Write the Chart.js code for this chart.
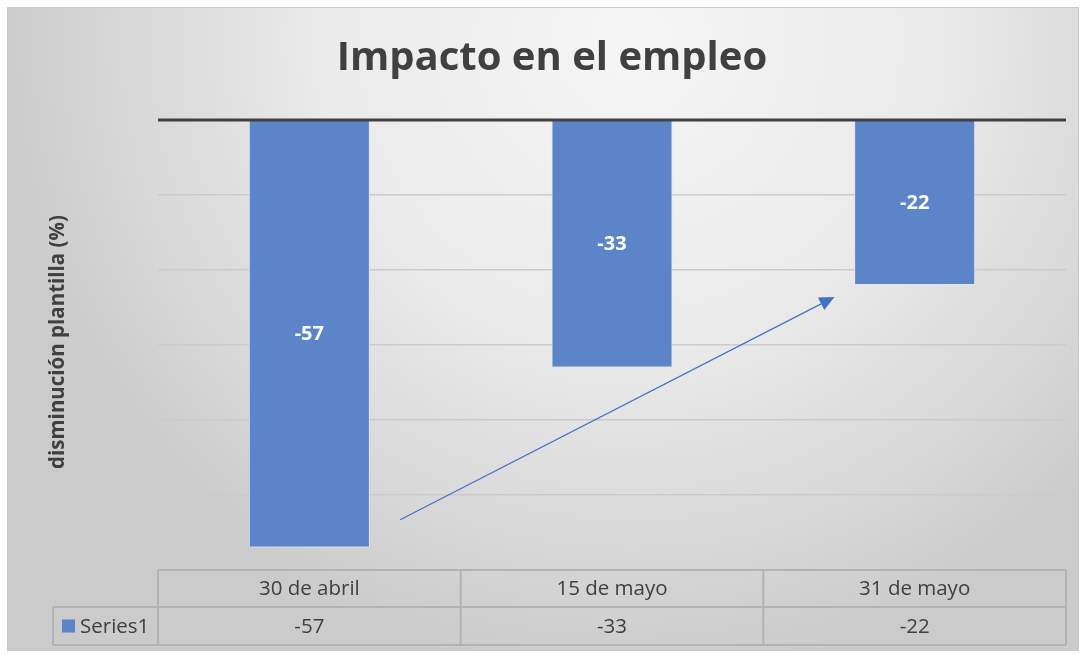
<!DOCTYPE html>
<html>
<head>
<meta charset="utf-8">
<script src="https://cdn.jsdelivr.net/npm/chart.js@4.4.1/dist/chart.umd.min.js"></script>
<style>
  body { margin: 0; background: #fff; }
  #wrap { width: 1086px; height: 655px; position: relative; }
</style>
</head>
<body>
<div id="wrap"><canvas id="chart"></canvas></div>
<script>
var categories = ['30 de abril', '15 de mayo', '31 de mayo'];
var seriesName = 'Series1';
var values = [-57, -33, -22];
var chartTitle = 'Impacto en el empleo';
var yTitle = 'disminución plantilla (%)';
// trend arrow, in axis units (category index, value)
var arrowFrom = [0.3, -53.3];
var arrowTo = [1.735, -23.6];

var FONT = '"Open Sans", "Noto Sans", sans-serif';
var TEXT = '#404040';
var BLUE = '#5b84c9';
var LINE = '#b3b3b3';

var extras = {
  id: 'extras',
  beforeDraw: function (chart) {
    var ctx = chart.ctx;
    ctx.save();
    var g = ctx.createRadialGradient(630, 40, 20, 630, 40, 640);
    g.addColorStop(0, '#f5f5f5');
    g.addColorStop(0.45, '#ebebeb');
    g.addColorStop(1, '#cbcbcb');
    ctx.fillStyle = g;
    ctx.fillRect(7, 7, 1072, 644);
    ctx.strokeStyle = '#c9c9c9';
    ctx.lineWidth = 1;
    ctx.strokeRect(7.5, 7.5, 1071, 643);

    ctx.fillStyle = TEXT;
    ctx.textAlign = 'center';
    ctx.textBaseline = 'middle';
    ctx.font = 'bold 40px ' + FONT;
    ctx.fillText(chartTitle, 552, 59);

    ctx.translate(58, 342);
    ctx.rotate(-Math.PI / 2);
    ctx.font = 'bold 20.5px ' + FONT;
    ctx.fillText(yTitle, 0, 0);
    ctx.restore();
  },
  afterDatasetsDraw: function (chart) {
    var ctx = chart.ctx;
    var xs = chart.scales.x, ys = chart.scales.y;
    var area = chart.chartArea;
    ctx.save();

    // value labels inside bars
    var meta = chart.getDatasetMeta(0);
    ctx.fillStyle = '#fff';
    ctx.font = 'bold 20px ' + FONT;
    ctx.textAlign = 'center';
    ctx.textBaseline = 'middle';
    meta.data.forEach(function (bar, i) {
      ctx.fillText(String(values[i]), bar.x, (bar.y + bar.base) / 2);
    });

    // arrow
    var x1 = xs.getPixelForValue(arrowFrom[0]), y1 = ys.getPixelForValue(arrowFrom[1]);
    var x2 = xs.getPixelForValue(arrowTo[0]), y2 = ys.getPixelForValue(arrowTo[1]);
    var ang = Math.atan2(y2 - y1, x2 - x1);
    var hl = 15, hw = 7;
    var bx = x2 - hl * Math.cos(ang), by = y2 - hl * Math.sin(ang);
    ctx.strokeStyle = '#4472c4';
    ctx.fillStyle = '#4472c4';
    ctx.lineWidth = 1.2;
    ctx.beginPath();
    ctx.moveTo(x1, y1);
    ctx.lineTo(bx, by);
    ctx.stroke();
    ctx.beginPath();
    ctx.moveTo(x2, y2);
    ctx.lineTo(bx + hw * Math.sin(ang), by - hw * Math.cos(ang));
    ctx.lineTo(bx - hw * Math.sin(ang), by + hw * Math.cos(ang));
    ctx.closePath();
    ctx.fill();

    // zero line on top
    ctx.strokeStyle = '#404040';
    ctx.lineWidth = 3;
    ctx.beginPath();
    ctx.moveTo(area.left, ys.getPixelForValue(0));
    ctx.lineTo(area.right, ys.getPixelForValue(0));
    ctx.stroke();

    // data table
    var top = area.bottom, mid = top + 37, bot = mid + 38, legL = 53;
    ctx.strokeStyle = LINE;
    ctx.lineWidth = 2;
    ctx.beginPath();
    ctx.moveTo(area.left, top); ctx.lineTo(area.right, top);
    ctx.moveTo(legL, mid); ctx.lineTo(area.right, mid);
    ctx.moveTo(legL, bot); ctx.lineTo(area.right, bot);
    ctx.moveTo(legL, mid); ctx.lineTo(legL, bot);
    var step = (area.right - area.left) / categories.length;
    for (var k = 0; k <= categories.length; k++) {
      var vx = area.left + step * k;
      ctx.moveTo(vx, top); ctx.lineTo(vx, bot);
    }
    ctx.stroke();

    ctx.fillStyle = TEXT;
    ctx.font = '20.5px ' + FONT;
    ctx.textAlign = 'center';
    categories.forEach(function (c, i) {
      var cx = xs.getPixelForValue(i);
      ctx.fillText(c, cx, (top + mid) / 2 + 1);
      ctx.fillText(String(values[i]), cx, (mid + bot) / 2 + 1);
    });
    ctx.fillStyle = BLUE;
    ctx.fillRect(62, (mid + bot) / 2 - 6.5, 13, 13);
    ctx.fillStyle = TEXT;
    ctx.textAlign = 'left';
    ctx.fillText(seriesName, 80, (mid + bot) / 2 + 1);
    ctx.restore();
  }
};

new Chart('chart', {
  type: 'bar',
  data: {
    labels: categories,
    datasets: [{
      label: seriesName,
      data: values,
      backgroundColor: BLUE,
      borderColor: '#dfe6f3',
      borderWidth: 1,
      barPercentage: 0.4,
      categoryPercentage: 1
    }]
  },
  options: {
    responsive: true,
    maintainAspectRatio: false,
    animation: false,
    layout: { padding: { left: 158, top: 120, right: 20, bottom: 85 } },
    plugins: {
      legend: { display: false },
      tooltip: { enabled: false }
    },
    scales: {
      x: { display: false },
      y: {
        min: -60,
        max: 0,
        ticks: { display: false, stepSize: 10 },
        border: { display: false },
        grid: {
          drawTicks: false,
          lineWidth: 1.5,
          color: function (c) { return c.tick.value === -60 ? 'rgba(0,0,0,0)' : '#cbcbcb'; }
        }
      }
    }
  },
  plugins: [extras]
});
</script>
</body>
</html>
